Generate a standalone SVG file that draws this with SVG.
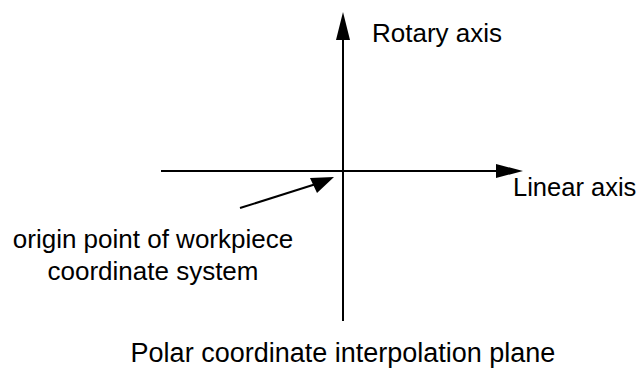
<svg xmlns="http://www.w3.org/2000/svg" width="643" height="374" viewBox="0 0 643 374">
<style>
.ln{stroke:#000;stroke-width:2;fill:none}
.ah{fill:#000;stroke:none}
text{font-family:"Liberation Sans",Arial,sans-serif;font-size:26px;fill:#000}
</style>
<rect width="643" height="374" fill="#fff"/>
<g id="connectors">
<line class="ln" x1="343" y1="36" x2="343" y2="321"/>
<polygon class="ah" points="343,12 336,40 350,40"/>
<line class="ln" x1="161" y1="171" x2="500" y2="171"/>
<polygon class="ah" points="523,171 496,164 496,178"/>
<line class="ln" x1="240" y1="208" x2="316" y2="184"/>
<polygon class="ah" points="334,177 310,178 317,193"/>
</g>
<g id="rotary"><text x="372" y="42">Rotary axis</text></g>
<g id="linear"><text x="513" y="196" style="font-size:25.5px">Linear axis</text></g>
<g id="origin"><text x="153" y="248" text-anchor="middle">origin point of workpiece</text><text x="153" y="280" text-anchor="middle">coordinate system</text></g>
<g id="title"><text x="343" y="362" text-anchor="middle" style="font-size:27px">Polar coordinate interpolation plane</text></g>
</svg>
